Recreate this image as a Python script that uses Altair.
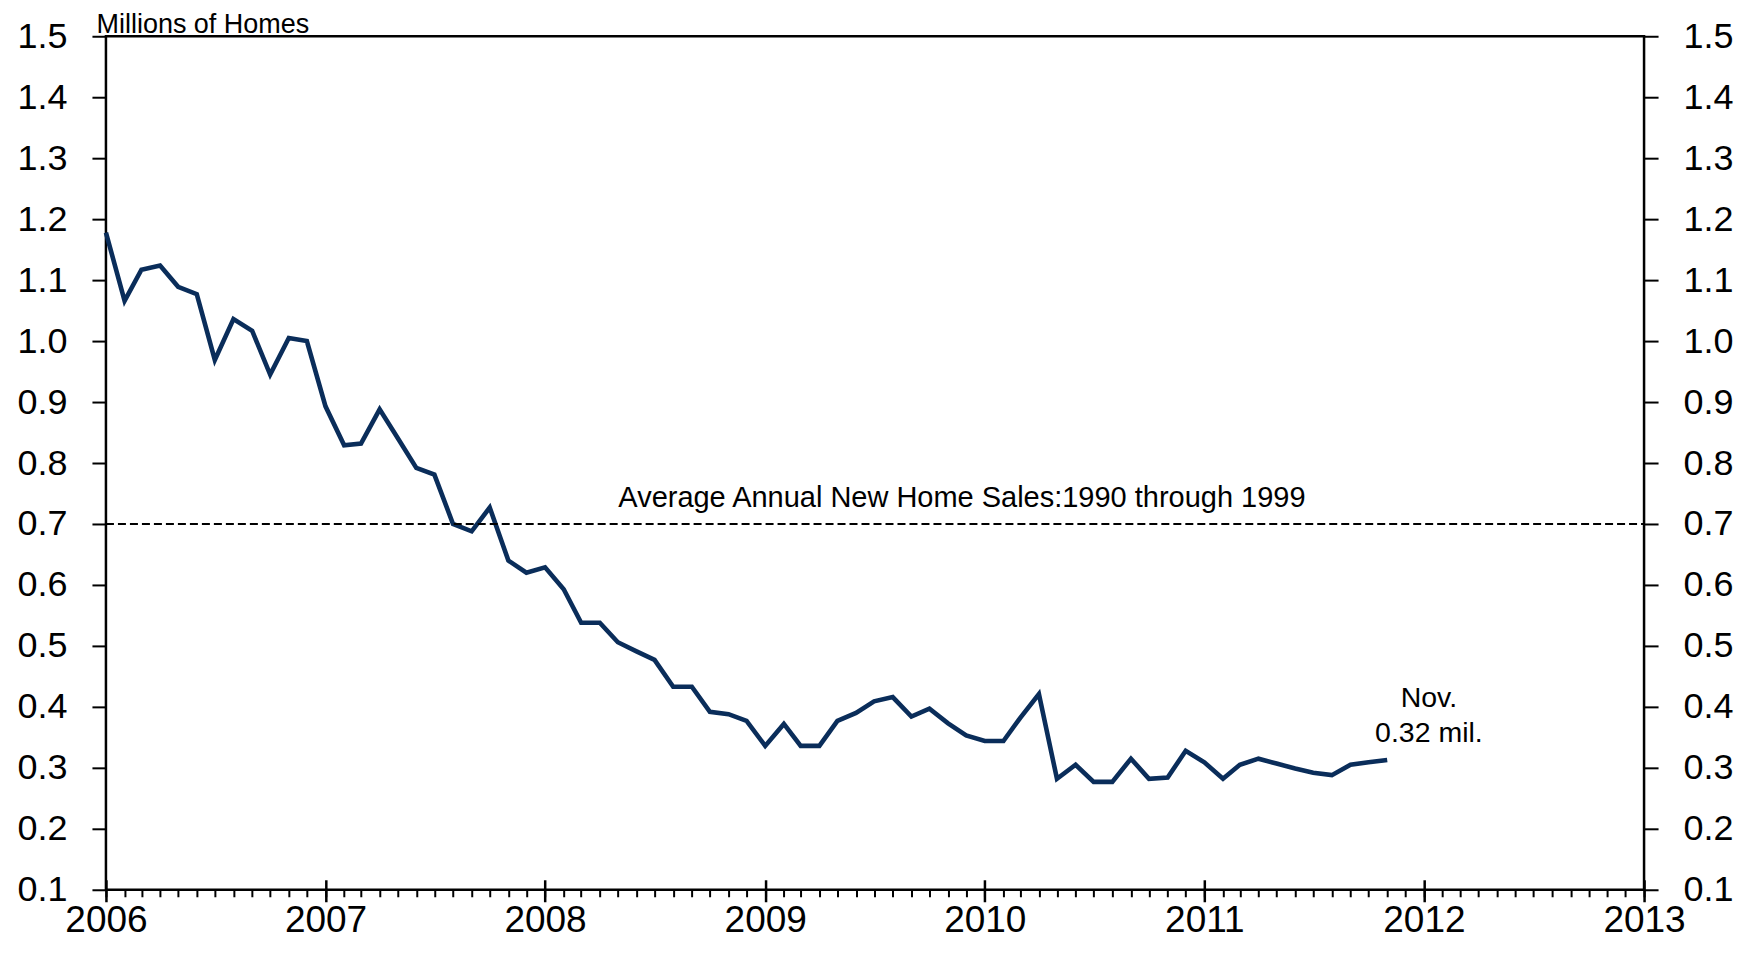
import altair as alt
import pandas as pd

# ---- data ----
month_starts = pd.date_range("2006-01-01", periods=71, freq="MS")  # Jan 2006 .. Nov 2011
sales_2006 = [1.178, 1.066, 1.117, 1.124, 1.089, 1.077, 0.969, 1.036, 1.017, 0.945, 1.005, 1.000]
sales_2007 = [0.893, 0.829, 0.832, 0.888, 0.841, 0.792, 0.781, 0.700, 0.688, 0.727, 0.640, 0.620]
sales_2008 = [0.629, 0.593, 0.538, 0.538, 0.506, 0.491, 0.477, 0.433, 0.433, 0.392, 0.388, 0.377]
sales_2009 = [0.336, 0.372, 0.336, 0.336, 0.377, 0.390, 0.409, 0.416, 0.384, 0.397, 0.373, 0.353]
sales_2010 = [0.344, 0.344, 0.382, 0.421, 0.282, 0.305, 0.277, 0.277, 0.315, 0.282, 0.284, 0.328]
sales_2011 = [0.309, 0.282, 0.305, 0.315, 0.307, 0.299, 0.292, 0.288, 0.305, 0.309, 0.313]
sales = sales_2006 + sales_2007 + sales_2008 + sales_2009 + sales_2010 + sales_2011

avg_value = [0.7]
avg_start = ["2006-01-01T00:00:00"]
avg_end = ["2013-01-01T00:00:00"]
avg_label = ["Average Annual New Home Sales:1990 through 1999"]
avg_label_date = ["2009-11-24T00:00:00"]

nov_label = ["Nov.\n0.32 mil."]
nov_label_date = ["2012-01-01T00:00:00"]
nov_label_value = [0.40]

y_ticks = [0.1, 0.2, 0.3, 0.4, 0.5, 0.6, 0.7, 0.8, 0.9, 1.0, 1.1, 1.2, 1.3, 1.4, 1.5]
year_ticks = [2006, 2007, 2008, 2009, 2010, 2011, 2012, 2013]

sales_df = pd.DataFrame({"date": month_starts, "sales": sales})
avg_df = pd.DataFrame({"start": pd.to_datetime(avg_start), "end": pd.to_datetime(avg_end), "value": avg_value})
avg_text_df = pd.DataFrame({"date": pd.to_datetime(avg_label_date), "value": avg_value, "label": avg_label})
nov_df = pd.DataFrame({"date": pd.to_datetime(nov_label_date), "value": nov_label_value, "label": nov_label})

# ---- styling ----
W, H = 1539, 854
NAVY = "#0A2D5A"
FONT = "Liberation Sans"

year_vals = [alt.DateTime(year=y, month=1, date=1) for y in year_ticks]
month_vals = [alt.DateTime(year=y, month=m, date=1) for y in year_ticks[:-1] for m in range(1, 13)]
month_vals.append(alt.DateTime(year=year_ticks[-1], month=1, date=1))

xscale = alt.Scale(domain=[year_vals[0], year_vals[-1]], nice=False)
yscale = alt.Scale(domain=[0.1, 1.5], nice=False, zero=False)

line = alt.Chart(sales_df).mark_line(color=NAVY, strokeWidth=4.6).encode(
    x=alt.X("date:T", scale=xscale,
            axis=alt.Axis(orient="bottom", values=year_vals, format="%Y", tickSize=12, tickWidth=2.5,
                          labelFontSize=37, labelPadding=30, labelBaseline="alphabetic", labelFlush=False,
                          labelOverlap=False, domain=False, grid=False, title=None)),
    y=alt.Y("sales:Q", scale=yscale,
            axis=alt.Axis(orient="left", values=y_ticks, format=".1f", tickSize=14, tickWidth=2,
                          labelPadding=25, labelFontSize=36, labelFlush=False, labelOverlap=False,
                          domain=False, grid=False, title="Millions of Homes", titleAngle=0,
                          titleAlign="left", titleBaseline="alphabetic", titleX=-10, titleY=-4,
                          titleFontSize=27, titleFontWeight="normal")),
)

avg_rule = alt.Chart(avg_df).mark_rule(color="black", strokeWidth=2, strokeDash=[8, 4]).encode(
    x=alt.X("start:T", scale=xscale,
            axis=alt.Axis(orient="bottom", values=month_vals, tickSize=7, tickWidth=2, labels=False,
                          domain=False, grid=False, title=None)),
    x2="end:T",
    y=alt.Y("value:Q", scale=yscale,
            axis=alt.Axis(orient="right", values=y_ticks, format=".1f", tickSize=14, tickWidth=2,
                          labelPadding=25, labelFontSize=36, labelFlush=False, labelOverlap=False,
                          domain=False, grid=False, title=None)),
)

avg_text = alt.Chart(avg_text_df).mark_text(fontSize=29, baseline="alphabetic", align="center", dy=-17).encode(
    x=alt.X("date:T", scale=xscale,
            axis=alt.Axis(orient="bottom", offset=-10, values=year_vals, tickSize=10, tickWidth=2.5,
                          labels=False, domain=False, grid=False, title=None)),
    y=alt.Y("value:Q", scale=yscale, axis=None),
    text="label:N",
)

nov_text = alt.Chart(nov_df).mark_text(fontSize=28.5, baseline="alphabetic", align="center",
                                       lineBreak="\n", lineHeight=35, dx=5).encode(
    x=alt.X("date:T", scale=xscale, axis=None),
    y=alt.Y("value:Q", scale=yscale, axis=None),
    text="label:N",
)

chart = alt.layer(line, avg_rule, avg_text, nov_text).resolve_axis(
    x="independent", y="independent"
).properties(
    width=W, height=H,
    autosize=alt.AutoSizeParams(type="none"),
    padding={"left": 98, "top": 28, "right": 100, "bottom": 52},
).configure_axis(
    labelFont=FONT, titleFont=FONT, labelColor="black", tickColor="black", titleColor="black",
).configure_text(
    font=FONT, color="black",
).configure_view(
    stroke="black", strokeWidth=2.5,
)

chart.save("out.html", embed_options={"renderer": "svg", "actions": False})
